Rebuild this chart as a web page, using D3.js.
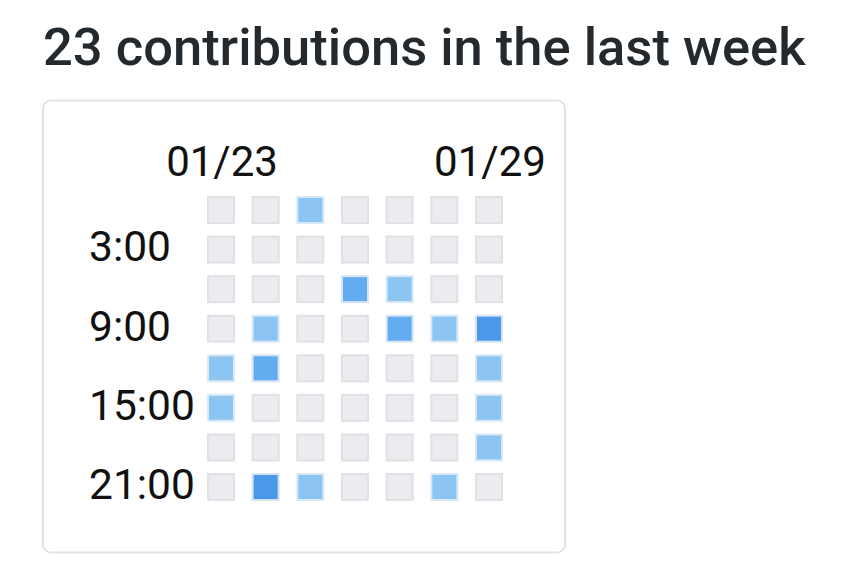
<!DOCTYPE html>
<html>
<head>
<meta charset="utf-8">
<script src="https://cdn.jsdelivr.net/npm/d3@7"></script>
<style>
  html, body { margin: 0; padding: 0; background: #fff; }
  svg { display: block; }
</style>
</head>
<body>
<svg id="chart" width="845" height="579"></svg>
<script>
// ---- data ----
const title = "23 contributions in the last week";
const days = ["01/23", "01/24", "01/25", "01/26", "01/27", "01/28", "01/29"];
const hours = ["0:00", "3:00", "6:00", "9:00", "12:00", "15:00", "18:00", "21:00"];
const dayLabels = ["01/23", "01/29"];
const hourLabels = ["3:00", "9:00", "15:00", "21:00"];
// contributions per 3-hour bin: one row per hour bin, one value per day
const counts = [
  [0, 0, 1, 0, 0, 0, 0],
  [0, 0, 0, 0, 0, 0, 0],
  [0, 0, 0, 2, 1, 0, 0],
  [0, 1, 0, 0, 2, 1, 3],
  [1, 2, 0, 0, 0, 0, 1],
  [1, 0, 0, 0, 0, 0, 1],
  [0, 0, 0, 0, 0, 0, 1],
  [0, 3, 1, 0, 0, 1, 0]
];
const levels = [0, 1, 2, 3];
const fillColors = ["#ebecef", "#8cc5f2", "#63acef", "#4a98e9"];
const strokeColors = ["#e0e1e4", "#d9e8f7", "#d6e5f6", "#d3e3f5"];

// ---- drawing ----
const svg = d3.select("#chart");

svg.append("text")
  .attr("x", 43)
  .attr("y", 65)
  .attr("font-family", "Roboto, 'Noto Sans', sans-serif")
  .attr("font-weight", 500)
  .attr("font-size", 52.5)
  .attr("fill", "#24292e")
  .text(title);

svg.append("rect")
  .attr("x", 43).attr("y", 100.5)
  .attr("width", 522).attr("height", 452)
  .attr("rx", 8).attr("ry", 8)
  .attr("fill", "#fff")
  .attr("stroke", "#e1e3e6")
  .attr("stroke-width", 2);

const x = d3.scaleBand().domain(days).range([207, 503]).paddingInner(0.373).paddingOuter(0);
const y = d3.scaleBand().domain(hours).range([196, 501]).paddingInner(0.293).paddingOuter(0);
const fill = d3.scaleOrdinal().domain(levels).range(fillColors);
const stroke = d3.scaleOrdinal().domain(levels).range(strokeColors);

const cells = [];
counts.forEach((row, r) => row.forEach((v, c) => cells.push({ hour: hours[r], day: days[c], value: v })));

const sw = 2;
svg.append("g").selectAll("rect")
  .data(cells)
  .join("rect")
  .attr("x", d => x(d.day) + sw / 2)
  .attr("y", d => y(d.hour) + sw / 2)
  .attr("width", x.bandwidth() - sw)
  .attr("height", y.bandwidth() - sw)
  .attr("fill", d => fill(d.value))
  .attr("stroke", d => stroke(d.value))
  .attr("stroke-width", sw);

// day axis (top)
const xAxis = d3.axisTop(x).tickValues(dayLabels).tickSize(0).tickPadding(0);
const gx = svg.append("g").attr("transform", "translate(1,176)").call(xAxis);
gx.select(".domain").remove();
gx.selectAll("text")
  .attr("font-family", "Roboto, 'Noto Sans', sans-serif")
  .attr("font-size", 42)
  .attr("fill", "#111")
  .attr("dy", 0);

// hour axis (left), labels start-anchored
const yAxis = d3.axisLeft(y).tickValues(hourLabels).tickSize(0).tickPadding(0);
const gy = svg.append("g").attr("transform", "translate(89,0)").call(yAxis);
gy.select(".domain").remove();
gy.selectAll("text")
  .attr("font-family", "Roboto, 'Noto Sans', sans-serif")
  .attr("font-size", 42.5)
  .attr("fill", "#111")
  .attr("text-anchor", "start")
  .attr("dy", "0.28em");
</script>
</body>
</html>
